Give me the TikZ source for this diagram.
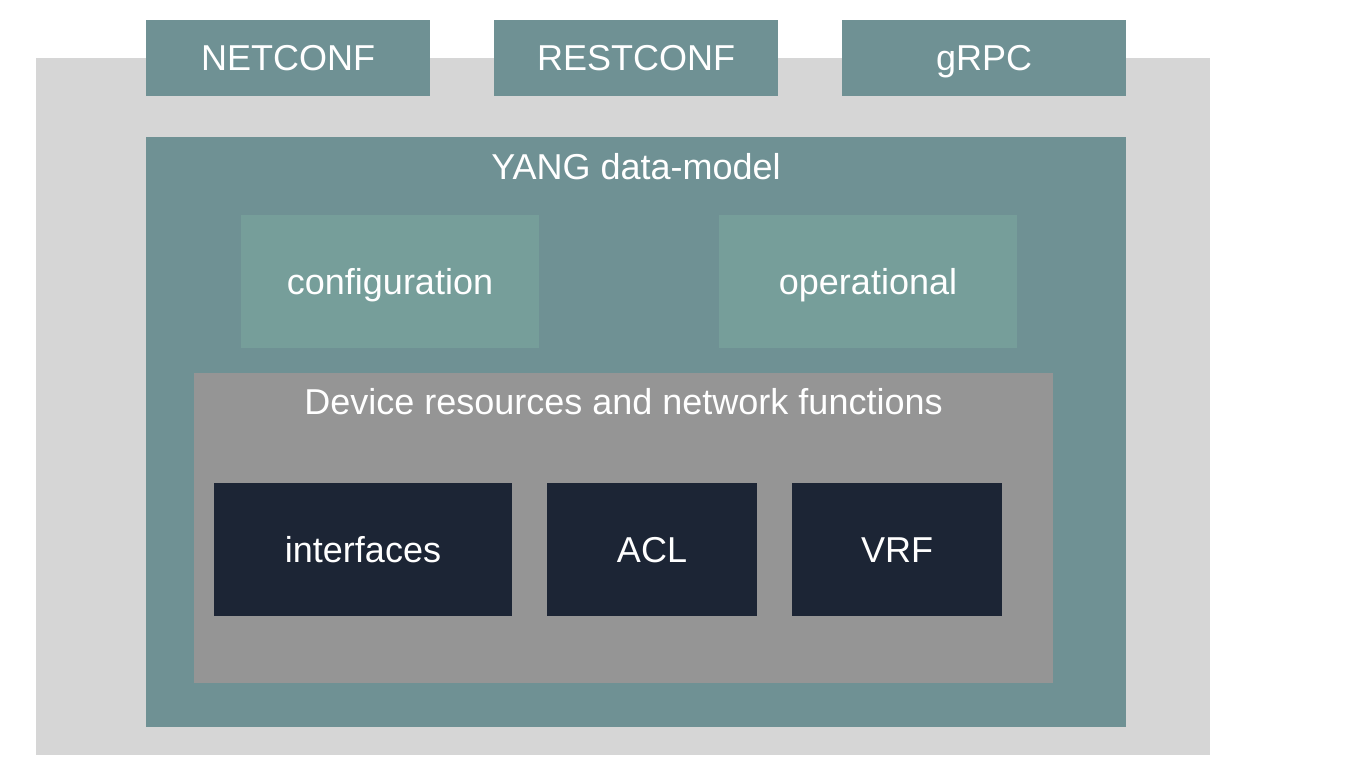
\documentclass[tikz,border=0pt]{standalone}
\usepackage{fontspec}
\setmainfont{Liberation Sans}
\usepackage{tikz}
\usetikzlibrary{positioning}
\definecolor{bgray}{HTML}{D6D6D6}
\definecolor{yteal}{HTML}{6F9194}
\definecolor{lteal}{HTML}{769E9A}
\definecolor{dgray}{HTML}{959595}
\definecolor{navy}{HTML}{1C2535}
\begin{document}
\begin{tikzpicture}[x=0.5pt,y=-0.5pt,
				every node/.style={inner sep=0pt, outer sep=0pt, text=white, text height=12.9pt, text depth=0pt, font=\fontsize{18}{21}\selectfont},
				proto/.style={fill=yteal, minimum width=142pt, minimum height=38pt},
				store/.style={fill=lteal, minimum width=149pt, minimum height=66.5pt},
				feature/.style={fill=navy, minimum height=66.5pt}]
		\useasboundingbox (0,0) rectangle (1352,770);
		\node[fill=bgray, minimum width=587pt, minimum height=348.5pt] (platform) at (623,406.5) {};
		% protocols on top
		\node[proto] (netconf) at (288,58) {NETCONF};
		\node[proto] (restconf) at (636,58) {RESTCONF};
		\node[proto] (grpc) at (984,58) {gRPC};
		% data model
		\node[fill=yteal, minimum width=490pt, minimum height=295pt] (yang) at (636,432) {};
		\node (yanglabel) at (636,167) {YANG data-model};
		\node[store] (config) at (390,281.5) {configuration};
		\node[store] (oper) at (868,281.5) {operational};
		% device
		\node[fill=dgray, minimum width=429.5pt, minimum height=155pt] (device) at (623.5,528) {};
		\node (devicelabel) at (623.5,402) {Device resources and network functions};
		\node[feature, minimum width=149pt] (intf) at (363,549.5) {interfaces};
		\node[feature, minimum width=105pt] (acl) at (652,549.5) {ACL};
		\node[feature, minimum width=105pt] (vrf) at (897,549.5) {VRF};
\end{tikzpicture}
\end{document}
